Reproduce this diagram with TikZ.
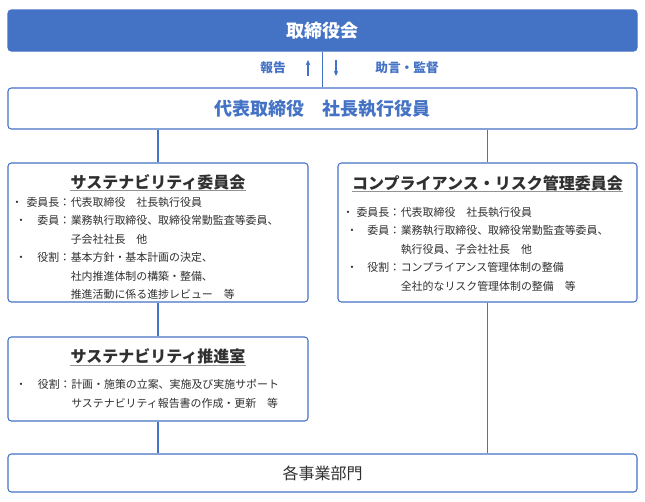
\documentclass[tikz,border=0pt]{standalone}
\usepackage{fontspec}
\setmainfont{Noto Sans CJK JP}
\usetikzlibrary{arrows.meta}
\definecolor{cblue}{HTML}{4472C4}
\definecolor{ctext}{HTML}{303030}
\begin{document}
\begin{tikzpicture}[x=0.75pt,y=-0.75pt,
  box/.style={draw=cblue, line width=0.8pt, rounded corners=2.5pt, fill=white, inner sep=0pt},
  link/.style={draw=cblue, line width=1.1pt},
  arr/.style={draw=cblue, line width=0.9pt, -{Stealth[length=4pt,width=3.5pt]}},
  title/.style={font=\fontsize{12pt}{14pt}\selectfont\bfseries, text=ctext, inner sep=0pt, anchor=base},
  body/.style={font=\fontsize{8.2pt}{10pt}\selectfont, text=ctext, inner sep=0pt},
  lbl/.style={body, anchor=base east},
  val/.style={body, anchor=base west},
  bul/.style={body, anchor=base},
  small/.style={font=\fontsize{9.5pt}{11pt}\selectfont\bfseries, text=cblue, inner sep=0pt},
  uline/.style={draw=gray!85, line width=0.7pt},
]
\useasboundingbox (0,0) rectangle (645,501);

% boxes
\node[box, fill=cblue, minimum width=471.75pt, minimum height=30.75pt, text=white,
      font=\fontsize{13.5pt}{16pt}\selectfont\bfseries] (board) at (322.5,30.5) {取締役会};
\node[box, minimum width=471.75pt, minimum height=30.75pt, text=cblue,
      font=\fontsize{13.5pt}{16pt}\selectfont\bfseries] (ceo) at (322.5,108.5) {代表取締役　社長執行役員};
\node[box, minimum width=225pt, minimum height=104.25pt] (sus) at (158,232.5) {};
\node[box, minimum width=224.25pt, minimum height=104.25pt] (comp) at (487.5,232.5) {};
\node[box, minimum width=225pt, minimum height=63pt] (office) at (158,379) {};
\node[box, minimum width=471.75pt, minimum height=28.5pt, text=ctext,
      font=\fontsize{12pt}{14pt}\selectfont] (div) at (322.5,473) {各事業部門};

% connectors
\draw[link] (board) -- (ceo);
\draw[link] (ceo.south -| sus.north) -- (sus.north);
\draw[link] (ceo.south -| comp.north) -- (comp.north);
\draw[link] (sus) -- (office);
\draw[link] (office.south) -- (office.south |- div.north);
\draw[link] (comp.south) -- (comp.south |- div.north);

% report / advice arrows
\coordinate (u1) at (308,76); \coordinate (u2) at (308,60);
\coordinate (d1) at (336,60); \coordinate (d2) at (336,76);
\draw[arr] (u1) -- (u2);
\draw[arr] (d1) -- (d2);
\node[small] (rep) at (273,68) {報告};
\node[small] (adv) at (407,68) {助言・監督};

% sustainability committee
\node[title] (sust) at (158,188) {サステナビリティ委員会};
\draw[uline] ([yshift=-1.8pt]sust.base west) -- ([yshift=-1.8pt]sust.base east);
\node[bul] (sb1) at (17,206) {・};
\node[lbl] (sl1) at (70.5,206) {委員長：};
\node[val] (sv1) at (70.5,206) {代表取締役　社長執行役員};
\node[bul] (sb2) at (21,224.5) {・};
\node[lbl] (sl2) at (70.5,224.5) {委員：};
\node[val] (sv2) at (70.5,224.5) {業務執行取締役、取締役常勤監査等委員、};
\node[val] (sv3) at (70.5,243) {子会社社長　他};
\node[bul] (sb4) at (21,261.5) {・};
\node[lbl] (sl4) at (70.5,261.5) {役割：};
\node[val] (sv4) at (70.5,261.5) {基本方針・基本計画の決定、};
\node[val] (sv5) at (70.5,280) {社内推進体制の構築・整備、};
\node[val] (sv6) at (70.5,298.5) {推進活動に係る進捗レビュー　等};

% compliance & risk committee
\node[title] (compt) at (487.5,189) {コンプライアンス・リスク管理委員会};
\draw[uline] ([yshift=-1.8pt]compt.base west) -- ([yshift=-1.8pt]compt.base east);
\node[bul] (cb1) at (348,216) {・};
\node[lbl] (cl1) at (400.5,216) {委員長：};
\node[val] (cv1) at (400.5,216) {代表取締役　社長執行役員};
\node[bul] (cb2) at (352,234.5) {・};
\node[lbl] (cl2) at (400.5,234.5) {委員：};
\node[val] (cv2) at (400.5,234.5) {業務執行取締役、取締役常勤監査等委員、};
\node[val] (cv3) at (400.5,253) {執行役員、子会社社長　他};
\node[bul] (cb4) at (352,271.5) {・};
\node[lbl] (cl4) at (400.5,271.5) {役割：};
\node[val] (cv4) at (400.5,271.5) {コンプライアンス管理体制の整備};
\node[val] (cv5) at (400.5,290) {全社的なリスク管理体制の整備　等};

% sustainability office
\node[title] (offt) at (158,362.7) {サステナビリティ推進室};
\draw[uline] ([yshift=-1.8pt]offt.base west) -- ([yshift=-1.8pt]offt.base east);
\node[bul] (ob1) at (21,388.5) {・};
\node[lbl] (ol1) at (71,388.5) {役割：};
\node[val] (ov1) at (71,388.5) {計画・施策の立案、実施及び実施サポート};
\node[val] (ov2) at (71,407.5) {サステナビリティ報告書の作成・更新　等};
\end{tikzpicture}
\end{document}
